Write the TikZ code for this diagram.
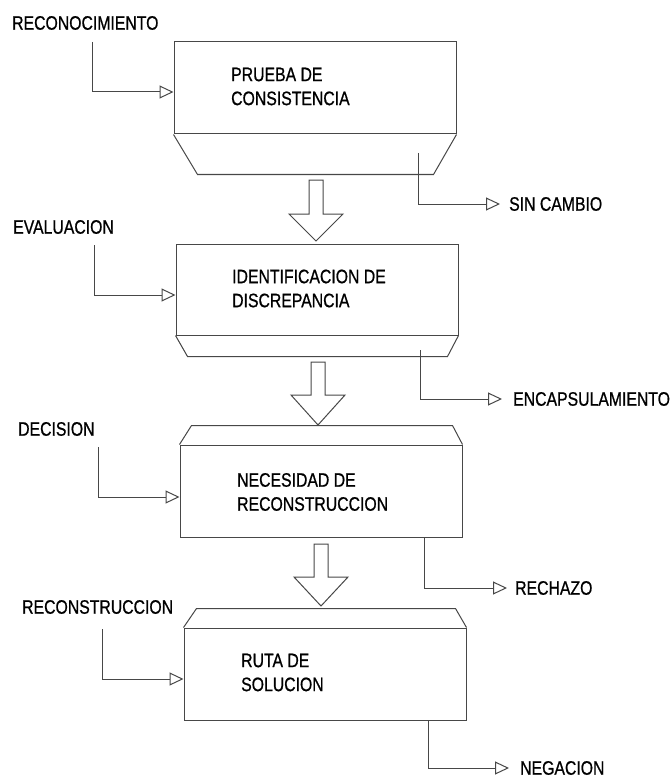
\documentclass[tikz,border=0pt]{standalone}
\usepackage{fontspec}
\setmainfont[FakeStretch=0.81, FakeBold=0.8]{Liberation Sans}
\usetikzlibrary{arrows.meta,calc}

\tikzset{
  line/.style={draw=black!72, line width=1pt},
  flow/.style={line, -{Triangle[open,length=14pt,width=13pt]}},
  lbl/.style={anchor=west, inner sep=0pt, font=\fontsize{19.5}{24}\selectfont},
  inside/.style={lbl, align=left},
  panel/.style={line, rectangle, inner sep=0pt, minimum width=282pt, minimum height=92pt},
  pics/bigdown/.style n args={2}{code={
    \draw[line, fill=white] (-7,0) -- (-7,#1) -- (-27,#1) -- (0,#2) -- (27,#1) -- (7,#1) -- (7,0) -- cycle;
  }}
}

\begin{document}
\begin{tikzpicture}[x=1pt, y=-1pt]
\path[use as bounding box] (0,0) rectangle (671,778);

% ---- stage boxes ----
\node[panel] (b1) at (315,88) {};
\node[panel, minimum height=91pt] (b2) at (317,289.5) {};
\node[panel] (b3) at (321,491) {};
\node[panel] (b4) at (325,674) {};

% bevelled skirts
\draw[line] (b1.south west) -- ($(b1.south west)+(24,40)$) -- ($(b1.south east)+(-23,40)$) -- (b1.south east);
\draw[line] (b2.south west) -- ($(b2.south west)+(12,21)$) -- ($(b2.south east)+(-11,21)$) -- (b2.south east);
\draw[line] (b3.north west) -- ($(b3.north west)+(12,-19)$) -- ($(b3.north east)+(-10,-19)$) -- (b3.north east);
\draw[line] (b4.north west) -- ($(b4.north west)+(13,-19)$) -- ($(b4.north east)+(-11,-19)$) -- (b4.north east);

% box texts
\node[inside] (p1) at (231,86.5) {PRUEBA DE\\CONSISTENCIA};
\node[inside] (p2) at (232,288.5) {IDENTIFICACION DE\\DISCREPANCIA};
\node[inside] (p3) at (237,492) {NECESIDAD DE\\RECONSTRUCCION};
\node[inside] (p4) at (241,672.5) {RUTA DE\\SOLUCION};

% ---- hollow arrows between stages ----
\pic at (316,180) {bigdown={34}{61}};
\pic at (318,362) {bigdown={33}{63}};
\pic at (321,544) {bigdown={33}{62}};

% ---- inputs ----
\node[lbl] (i1) at (12,23) {RECONOCIMIENTO};
\node[lbl] (i2) at (13,227) {EVALUACION};
\node[lbl] (i3) at (18,429) {DECISION};
\node[lbl] (i4) at (22,607) {RECONSTRUCCION};

\coordinate (s1) at (92,42);
\coordinate (s2) at (94,245);
\coordinate (s3) at (98,447);
\coordinate (s4) at (102,629);
\draw[flow] (s1) |- ([yshift=-4pt]b1.west);
\draw[flow] (s2) |- ([yshift=-5.5pt]b2.west);
\draw[flow] (s3) |- ([yshift=-6pt]b3.west);
\draw[flow] (s4) |- ([yshift=-5pt]b4.west);

% ---- outputs ----
\node[lbl] (o1) at (509,204) {SIN CAMBIO};
\node[lbl] (o2) at (513,399) {ENCAPSULAMIENTO};
\node[lbl] (o3) at (515,588) {RECHAZO};
\node[lbl] (o4) at (520,768) {NEGACION};

\coordinate (u1) at (418,153);
\coordinate (u2) at (420,350);
\coordinate (u3) at (424,537);
\coordinate (u4) at (428,720);
\draw[flow] (u1) |- ([xshift=-9pt]o1.west);
\draw[flow] (u2) |- ([xshift=-11pt]o2.west);
\draw[flow] (u3) |- ([xshift=-8pt]o3.west);
\draw[flow] (u4) |- ([xshift=-11pt]o4.west);
\end{tikzpicture}
\end{document}
